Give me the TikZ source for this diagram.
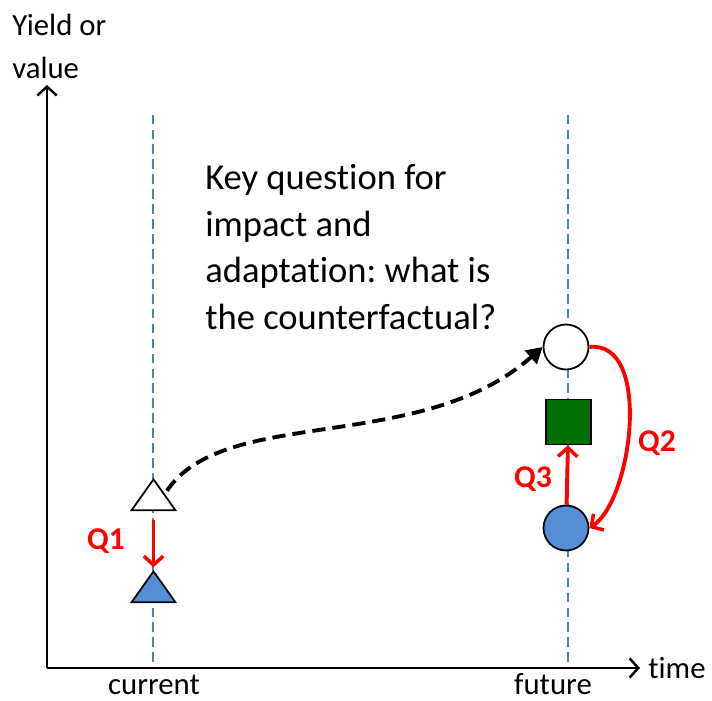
\documentclass[tikz,border=0pt]{standalone}
\usepackage{fontspec}
\setmainfont{Carlito}[Ligatures=CommonOff]
\usetikzlibrary{arrows.meta,shapes.geometric}
\definecolor{markblue}{HTML}{558ED5}
\definecolor{markgreen}{HTML}{007000}
\definecolor{guideblue}{HTML}{4F81BD}
\frenchspacing

\begin{document}
\begin{tikzpicture}[
    axis/.style={line width=1.6pt, -{Straight Barb[length=5pt,width=11pt,line width=1.4pt]}},
    guide/.style={guideblue, line width=1pt, dash pattern=on 5.5pt off 3pt},
    tri/.style={isosceles triangle, isosceles triangle stretches, shape border rotate=90, minimum width=0.88cm, minimum height=0.62cm, inner sep=0, draw, line width=1pt},
    dot/.style={circle, draw, line width=1pt, minimum size=0.9cm, inner sep=0},
    qarrow/.style={red, line width=2.2pt, -{Straight Barb[length=5pt,width=11pt,line width=2pt]}},
    trend/.style={line width=2.2pt, dash pattern=on 7.5pt off 4pt, -{Triangle[length=9pt,width=10pt]}},
    qlabel/.style={red, font=\fontsize{18}{20}\selectfont\bfseries},
    axislabel/.style={font=\fontsize{17.5}{24}\selectfont},
]
\useasboundingbox (0,0) rectangle (14.24,14);

\coordinate (origin) at (0.94,0.64);
\coordinate (ytop)   at (0.94,12.3);
\coordinate (xend)   at (12.8,0.64);
\coordinate (nowlo)  at (3.06,0.76);
\coordinate (nowhi)  at (3.06,11.8);
\coordinate (futlo)  at (11.36,0.76);
\coordinate (futhi)  at (11.36,11.8);

\draw[guide] (nowlo) -- (nowhi);
\draw[guide] (futlo) -- (futhi);
\draw[axis] (origin) -- (ytop);
\draw[axis] (origin) -- (xend);

\node[axislabel, align=left, anchor=west, inner sep=0] (ylabel) at (0.24,13.07) {Yield or\\value};
\node[axislabel, anchor=west, inner sep=0] (tlabel) at (12.96,0.64) {time};
\node[axislabel] (nowlabel) at (3.08,0.31) {current};
\node[axislabel] (futlabel) at (11.06,0.31) {future};

\node[tri, fill=white]     (now)      at (3.07,4.02) {};
\node[tri, fill=markblue]  (nowimp)   at (3.07,2.18) {};
\node[dot, fill=white]     (fut)      at (11.32,7.06) {};
\node[rectangle, draw, line width=1pt, fill=markgreen, minimum size=0.9cm, inner sep=0] (futadapt) at (11.37,5.56) {};
\node[dot, fill=markblue]  (futimp)   at (11.32,3.44) {};

\node[anchor=west, align=left, inner sep=0, font=\fontsize{20.8}{26.5}\selectfont] (question) at (4.1,9.06)
    {Key question for\\impact and\\adaptation: what is\\the counterfactual?};

\draw[trend, shorten <=2pt] (now.25) .. controls (4.5,5.9) and (8.4,4.9) .. (fut.west);
\draw[qarrow, shorten <=5pt, shorten >=1pt] (now) -- (nowimp);
\draw[qarrow] (futimp) -- (futadapt);
\draw[qarrow] (fut.east) .. controls (13.05,7.2) and (12.65,4.0) .. (futimp.east);

\node[qlabel] (q1) at (2.12,3.18) {Q1};
\node[qlabel] (q3) at (10.66,4.42) {Q3};
\node[qlabel] (q2) at (13.14,5.14) {Q2};
\end{tikzpicture}
\end{document}
